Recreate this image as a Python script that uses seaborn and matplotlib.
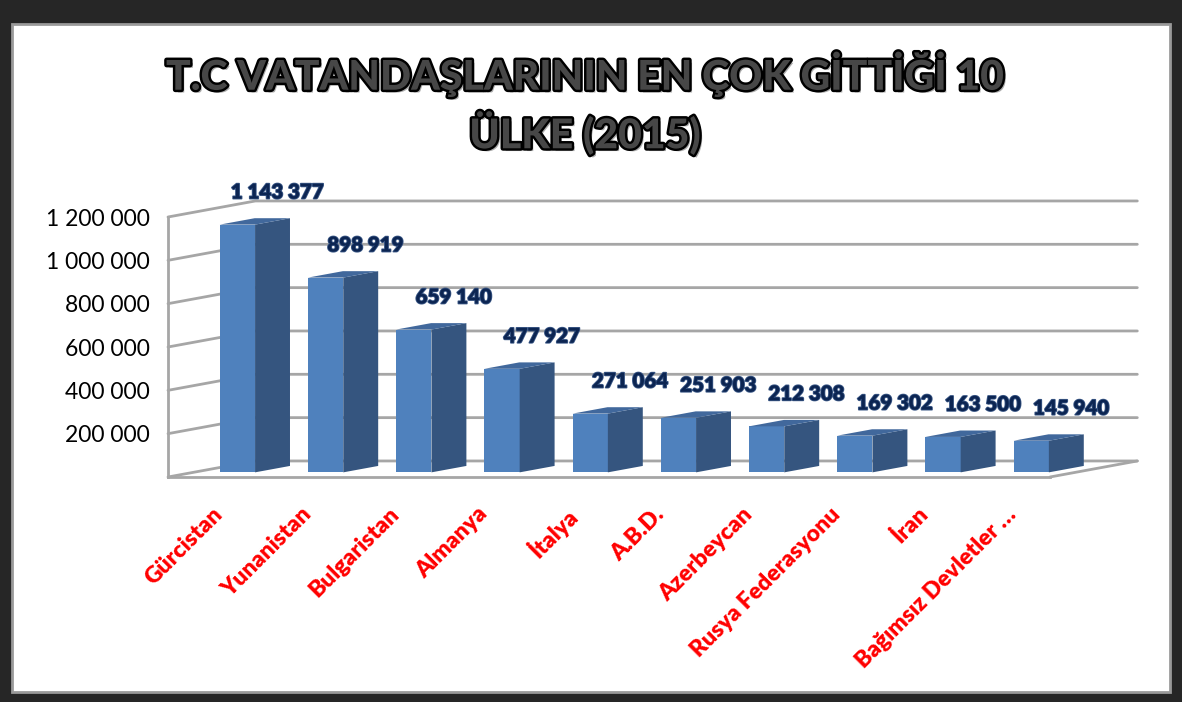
import matplotlib
matplotlib.use("Agg")
import matplotlib.pyplot as plt
import matplotlib.patheffects as pe
from matplotlib.patches import Polygon, Rectangle
import seaborn as sns
import pandas as pd

# data
countries = ["Gürcistan", "Yunanistan", "Bulgaristan", "Almanya", "İtalya", "A.B.D.",
             "Azerbeycan", "Rusya Federasyonu", "İran", "Bağımsız Devletler …"]
visitors = [1143377, 898919, 659140, 477927, 271064, 251903, 212308, 169302, 163500, 145940]
y_ticks = [0, 200000, 400000, 600000, 800000, 1000000, 1200000]
title = "T.C VATANDAŞLARININ EN ÇOK GİTTİĞİ 10\nÜLKE (2015)"

df = pd.DataFrame({"ulke": countries, "kisi": visitors})

sns.set_style("white")
plt.rcParams["font.family"] = ["Lato", "DejaVu Sans"]

front_col = "#4F81BD"
side_col = "#35557F"
top_col = "#41689C"
grid_col = "#A6A6A6"
dx, dy = 0.99, 74000   # depth of the fake 3d box (data units)
f0, f1 = 0.29, 0.69    # where the bars sit inside that depth

fig = plt.figure(figsize=(11.82, 7.02), dpi=100, facecolor="#262626")
# white panel inside the dark frame
fig.patches.append(Rectangle((12 / 1182, 10 / 702), 1158 / 1182, 668 / 702,
                             transform=fig.transFigure, facecolor="white",
                             edgecolor="#9a9a9a", lw=2, zorder=-5))

ax = fig.add_axes([168 / 1182, 225 / 702, 882 / 1182, 260 / 702])
ax.set_zorder(2)
ax.set_facecolor("none")
sns.barplot(data=df, x="ulke", y="kisi", color=front_col, width=0.4,
            saturation=1, ax=ax, zorder=3)
ax.set_xlim(-0.5, 9.5)
ax.set_ylim(0, 1200000)

# back wall + left wall gridlines
for v in y_ticks:
    ax.plot([-0.5, -0.5 + dx, 9.5 + dx], [v, v + dy, v + dy], color=grid_col,
            lw=2, clip_on=False, zorder=1, solid_joinstyle="miter")
ax.plot([9.5, 9.5 + dx], [0, dy], color=grid_col, lw=2, clip_on=False, zorder=1)

# push bars back into the box and add side/top faces
for p, v in zip(ax.patches, visitors):
    w = p.get_width()
    x0 = p.get_x() + f0 * dx
    y0 = f0 * dy
    p.set_x(x0)
    p.set_y(y0)
    p.set_clip_on(False)
    p.set_edgecolor("none")
    ddx, ddy = (f1 - f0) * dx, (f1 - f0) * dy
    side = Polygon([(x0 + w, y0), (x0 + w + ddx, y0 + ddy),
                    (x0 + w + ddx, y0 + v + ddy), (x0 + w, y0 + v)],
                   closed=True, facecolor=side_col, edgecolor="none",
                   clip_on=False, zorder=3)
    top = Polygon([(x0, y0 + v), (x0 + ddx, y0 + v + ddy),
                   (x0 + w + ddx, y0 + v + ddy), (x0 + w, y0 + v)],
                  closed=True, facecolor=top_col, edgecolor="none",
                  clip_on=False, zorder=3)
    ax.add_patch(side)
    ax.add_patch(top)
    ax.text(x0 + w / 2 + 0.45, v + y0 + 150000, f"{v:,}".replace(",", " "),
            ha="center", va="center", fontsize=14.8, fontweight="heavy",
            color="#0C2552", zorder=5, clip_on=False,
            path_effects=[pe.withStroke(linewidth=1.2, foreground="#3D5A88")])

# axes styling
for s in ["top", "right"]:
    ax.spines[s].set_visible(False)
for s in ["left", "bottom"]:
    ax.spines[s].set_color(grid_col)
    ax.spines[s].set_linewidth(2)
ax.set_yticks(y_ticks)
ax.set_yticklabels(["" if v == 0 else f"{v:,}".replace(",", " ") for v in y_ticks],
                   fontsize=16.5, color="black")
ax.tick_params(axis="y", length=7, width=1.5, color=grid_col, pad=6)

ax.set_xticks(range(len(countries)))
ax.set_xticklabels(countries, rotation=45, ha="right", rotation_mode="anchor",
                   fontsize=16.5, fontweight="heavy", color="#FF0000")
ax.set_xticks([i - 0.5 for i in range(len(countries) + 1)], minor=True)
ax.tick_params(axis="x", which="major", length=0, pad=19)
ax.tick_params(axis="x", which="minor", length=7, width=1.5, color=grid_col)
ax.set_xlabel("")
ax.set_ylabel("")

fig.text(585 / 1182, 1 - 103 / 702, title, ha="center", va="center",
         fontsize=29.5, fontweight="black", color="#474747", linespacing=1.35,
         path_effects=[pe.withSimplePatchShadow(offset=(2, -2), shadow_rgbFace="#777777", alpha=0.6),
                       pe.Stroke(linewidth=3.5, foreground="black"), pe.Normal()])

fig.savefig("out.png", dpi=100, facecolor=fig.get_facecolor())
